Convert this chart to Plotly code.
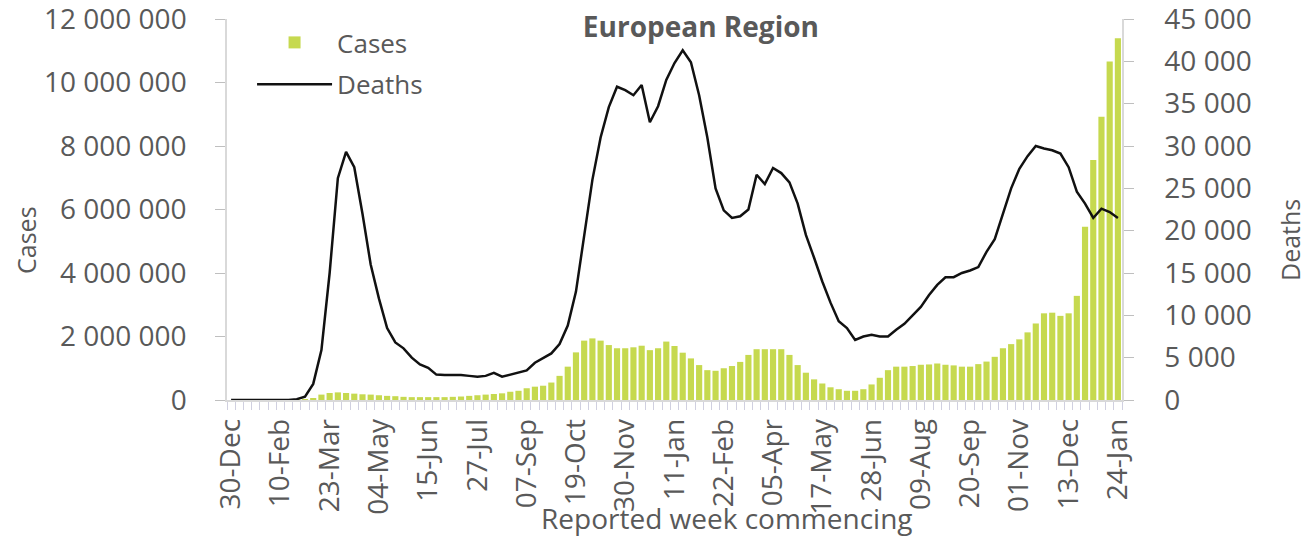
import plotly.graph_objects as go

# ---- data (weekly, 30-Dec-2019 .. 24-Jan-2022) ----
week_index = list(range(109))
tick_positions = list(range(0, 109, 6))
tick_labels = ["30-Dec", "10-Feb", "23-Mar", "04-May", "15-Jun", "27-Jul", "07-Sep",
               "19-Oct", "30-Nov", "11-Jan", "22-Feb", "05-Apr", "17-May", "28-Jun",
               "09-Aug", "20-Sep", "01-Nov", "13-Dec", "24-Jan"]

cases = [
    0, 0, 0, 0, 0, 0, 0, 0, 2000, 10000,
    50000, 170000, 220000, 240000, 220000, 200000, 180000, 170000, 150000, 130000,
    120000, 100000, 90000, 90000, 90000, 90000, 90000, 100000, 110000, 130000,
    150000, 170000, 190000, 210000, 260000, 290000, 370000, 420000, 450000, 550000,
    760000, 1050000, 1500000, 1870000, 1940000, 1870000, 1730000, 1630000, 1630000, 1660000,
    1710000, 1570000, 1630000, 1840000, 1700000, 1490000, 1310000, 1100000, 940000, 920000,
    1000000, 1070000, 1200000, 1420000, 1600000, 1600000, 1600000, 1600000, 1420000, 1100000,
    860000, 650000, 520000, 400000, 340000, 290000, 290000, 340000, 490000, 700000,
    940000, 1050000, 1050000, 1070000, 1110000, 1120000, 1150000, 1110000, 1090000, 1050000,
    1050000, 1130000, 1210000, 1360000, 1630000, 1760000, 1910000, 2130000, 2410000, 2730000,
    2750000, 2650000, 2730000, 3280000, 5460000, 7560000, 8920000, 10660000, 11390000,
]

deaths = [
    0, 0, 0, 0, 0, 0, 0, 0, 100, 400,
    1900, 5900, 15000, 26200, 29300, 27500, 22000, 16000, 12000, 8500,
    6800, 6100, 5000, 4200, 3800, 3000, 2950, 2950, 2950, 2850,
    2750, 2850, 3200, 2750, 3000, 3300, 3500, 4400, 5000, 5500,
    6600, 8800, 12800, 19500, 26000, 31000, 34600, 37000, 36600, 36000,
    37200, 32800, 34700, 37800, 39800, 41300, 39900, 36000, 31000, 25000,
    22400, 21500, 21700, 22500, 26600, 25500, 27400, 26800, 25700, 23200,
    19500, 16800, 14000, 11500, 9300, 8500, 7100, 7500, 7700, 7500,
    7500, 8300, 9000, 10000, 11000, 12400, 13600, 14500, 14500, 15000,
    15300, 15700, 17500, 19000, 22000, 25000, 27300, 28800, 30000, 29700,
    29500, 29100, 27500, 24600, 23200, 21500, 22600, 22200, 21500,
]

left_ticks = [0, 2e6, 4e6, 6e6, 8e6, 10e6, 12e6]
left_labels = ["0", "2 000 000", "4 000 000", "6 000 000", "8 000 000", "10 000 000", "12 000 000"]
right_ticks = list(range(0, 45001, 5000))
right_labels = ["0", "5 000", "10 000", "15 000", "20 000", "25 000", "30 000", "35 000", "40 000", "45 000"]

FONT = "Open Sans"
TXT = "#595959"
AXIS = "#d9d9d9"

fig = go.Figure()
fig.add_trace(go.Bar(x=week_index, y=cases, name="Cases", marker_color="#c6d94f",
                     marker_line_width=0, yaxis="y", legendgroup="c"))
fig.add_trace(go.Scatter(x=week_index, y=deaths, name="Deaths", mode="lines",
                         line=dict(color="#111111", width=2.5), yaxis="y2",
                         legendgroup="d"))

fig.update_layout(
    width=1300, height=529,
    margin=dict(l=219, r=186, t=11, b=137, autoexpand=False),
    paper_bgcolor="white", plot_bgcolor="white",
    bargap=0.25,
    font=dict(family=FONT, color=TXT),
    title=dict(text="<b>European Region</b>", x=0.533, xanchor="center",
               y=0.963, yanchor="middle", yref="container",
               font=dict(family=FONT, size=28, color=TXT)),
    showlegend=True,
    legend=dict(x=0.028, y=1.0, xanchor="left", yanchor="top",
                font=dict(family=FONT, size=26, color=TXT),
                bgcolor="rgba(0,0,0,0)", itemwidth=75, tracegroupgap=5),
    xaxis=dict(range=[-0.5, 108.5], tickmode="array", tickvals=tick_positions,
               ticktext=tick_labels, tickangle=-90, ticks="",
               tickfont=dict(family=FONT, size=28, color=TXT),
               showline=True, linecolor=AXIS, linewidth=1.5, showgrid=False,
               zeroline=False, ticklabelstandoff=6,
               minor=dict(tick0=-0.5, dtick=1, ticks="outside", ticklen=8,
                          tickcolor="#d0d0e0", tickwidth=1, showgrid=False)),
    yaxis=dict(range=[0, 12e6], tickmode="array", tickvals=left_ticks,
               ticktext=left_labels, ticks="outside", ticklen=10, tickcolor="#bfbfbf",
               tickfont=dict(family=FONT, size=28, color=TXT),
               showline=True, linecolor=AXIS, linewidth=1.5, showgrid=False,
               zeroline=False, ticklabelstandoff=23, ticklabeloverflow="allow"),
    yaxis2=dict(range=[0, 45000], tickmode="array", tickvals=right_ticks,
                ticktext=right_labels, overlaying="y", side="right",
                ticks="outside", ticklen=10, tickcolor="#bfbfbf",
                tickfont=dict(family=FONT, size=28, color=TXT),
                showline=True, linecolor=AXIS, linewidth=1.5, showgrid=False,
                zeroline=False, ticklabelstandoff=25, ticklabeloverflow="allow"),
    annotations=[
        dict(text="Cases", xref="paper", yref="paper", x=-0.2246, y=0.42,
             textangle=-90, showarrow=False, font=dict(family=FONT, size=25, color=TXT),
             xanchor="center", yanchor="middle"),
        dict(text="Deaths", xref="paper", yref="paper", x=1.1877, y=0.42,
             textangle=-90, showarrow=False, font=dict(family=FONT, size=25, color=TXT),
             xanchor="center", yanchor="middle"),
        dict(text="Reported week commencing", xref="paper", yref="paper",
             x=0.559, y=-0.31, showarrow=False,
             font=dict(family=FONT, size=28, color=TXT),
             xanchor="center", yanchor="middle"),
    ],
)

fig.write_html("out.html")
